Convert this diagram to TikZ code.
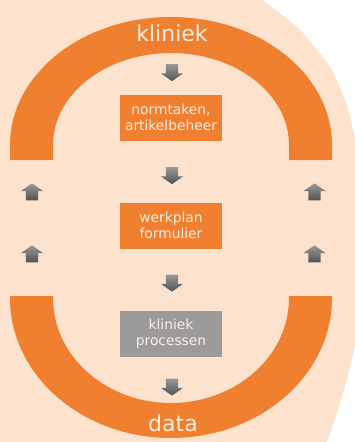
\documentclass[tikz,border=0pt]{standalone}
\usepackage{fontspec}
\setmainfont{DejaVu Sans}
\usetikzlibrary{shapes.arrows}
\definecolor{ringorange}{HTML}{F07F2F}
\definecolor{peach}{HTML}{FDE3CE}
\definecolor{boxgray}{HTML}{9B9B9B}
\definecolor{cream}{HTML}{FDEEE2}
\begin{document}
\begin{tikzpicture}[x=1pt, y=-1pt,
  procbox/.style={fill=ringorange, text=cream, minimum width=102pt, minimum height=46pt, inner sep=0pt, align=center, font=\fontsize{13.8}{16}\selectfont},
  ringlabel/.style={text=cream, font=\fontsize{22}{26}\selectfont, inner sep=0pt},
  blockarrow/.style={single arrow, minimum height=17pt, single arrow head extend=5pt, single arrow tip angle=110, inner xsep=0pt, inner ysep=6pt, outer sep=0pt, top color=black!40, bottom color=black!68}
]
\useasboundingbox (0,0) rectangle (355,442);
\fill[white] (0,0) rectangle (355,442);
% background
\fill[peach] (0,0) -- plot[smooth] coordinates {(262,0) (285,17) (303,33) (317,50) (330,67) (338,83) (345,100) (350,117) (354,133) (358,150) (362,180)}
  -- plot[smooth] coordinates {(362,310) (357,337) (351,363) (347,380) (342,397) (337,413) (327,442)} -- (0,442) -- cycle;
% top and bottom ring
\fill[ringorange] (10,160) -- (10,145) arc[start angle=180, end angle=360, x radius=161, y radius=128] -- (332,160)
  -- (289,160) -- (289,145) arc[start angle=360, end angle=180, x radius=118, y radius=92] -- (53,160) -- cycle;
\fill[ringorange] (10,296) -- (10,298) arc[start angle=180, end angle=0, x radius=161, y radius=140] -- (332,296)
  -- (289,296) -- (289,298) arc[start angle=0, end angle=180, x radius=118, y radius=105] -- (53,296) -- cycle;
\node[ringlabel] (kliniek) at (172,33) {kliniek};
\node[ringlabel] (data) at (173,423) {data};
% boxes
\node[procbox] (normtaken) at (171,117.5) {normtaken,\\artikelbeheer};
\node[procbox] (werkplan) at (171,225.5) {werkplan\\formulier};
\node[procbox, fill=boxgray] (processen) at (171,334) {kliniek\\processen};
% arrows
\node[blockarrow, rotate=-90] (down1) at (172,70.5) {};
\node[blockarrow, rotate=-90] (down2) at (172,173.5) {};
\node[blockarrow, rotate=-90] (down3) at (172,281) {};
\node[blockarrow, rotate=-90] (down4) at (172,385) {};
\node[blockarrow, rotate=90] (upleft1) at (32,194) {};
\node[blockarrow, rotate=90] (upleft2) at (32,256) {};
\node[blockarrow, rotate=90] (upright1) at (314.5,194) {};
\node[blockarrow, rotate=90] (upright2) at (314.5,256) {};
\end{tikzpicture}
\end{document}
